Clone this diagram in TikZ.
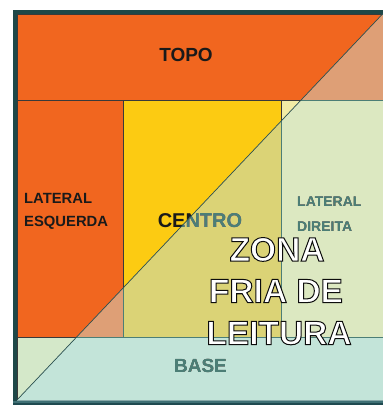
\documentclass[tikz,border=0pt]{standalone}
\usepackage{fontspec}
\setmainfont{Liberation Sans}
\definecolor{framec}{HTML}{1E4848}
\definecolor{orangeA}{HTML}{F1661F}
\definecolor{tanB}{HTML}{DE9F6E}
\definecolor{yellowA}{HTML}{FCCB12}
\definecolor{oliveB}{HTML}{DBD36F}
\definecolor{paleyA}{HTML}{F2ECA5}
\definecolor{palegB}{HTML}{DCE8C1}
\definecolor{basegA}{HTML}{D4E8C9}
\definecolor{basetB}{HTML}{C3E4D9}
\definecolor{tealtxt}{HTML}{4C7E76}
\definecolor{linec}{HTML}{3A3A3A}
\definecolor{diagc}{HTML}{2A4F4F}
\definecolor{txtc}{HTML}{1A1A1A}
\definecolor{botA}{HTML}{86A8A8}
\definecolor{botB}{HTML}{3F7075}
\definecolor{botC}{HTML}{1F4A50}
\newcommand{\outl}[1]{\special{pdf:literal direct 2 Tr 1.0 w 0.05 0.05 0.05 RG}#1\special{pdf:literal direct 0 Tr}}
\begin{document}
\begin{tikzpicture}[x=1pt,y=-1pt,
  regionline/.style={draw=linec, line width=0.6pt},
  diagline/.style={draw=diagc, line width=0.7pt},
  lbl/.style={inner sep=0pt, text=txtc, font=\bfseries},
  zona/.style={inner sep=0pt, text=white, anchor=base, font=\fontsize{33.5}{33.5}\selectfont\bfseries}]
\useasboundingbox (0,0) rectangle (383,405);
% frame (left and top)
\fill[framec] (13,10) rectangle (17,405);
\fill[framec] (13,10) rectangle (383,14);
% upper-left colours
\fill[orangeA] (17,14) rectangle (383,100);
\fill[orangeA] (17,100) rectangle (123,337);
\fill[yellowA] (123,100) rectangle (281,337);
\fill[paleyA] (281,100) rectangle (383,337);
\fill[basegA] (17,337) rectangle (383,400);
% lower-right colours
\coordinate (dA) at (17,400);
\coordinate (dB) at (383,13.5);
\begin{scope}
  \clip (dA) -- (dB) -- (383,13.5) -- (383,400) -- cycle;
  \fill[tanB] (17,14) rectangle (383,100);
  \fill[tanB] (17,100) rectangle (123,337);
  \fill[oliveB] (123,100) rectangle (281,337);
  \fill[palegB] (281,100) rectangle (383,337);
  \fill[basetB] (17,337) rectangle (383,400);
\end{scope}
% bottom edge
\fill[botA] (17,399.5) rectangle (383,401.2);
\fill[botB] (13,401.2) rectangle (383,403);
\fill[botC] (13,403) rectangle (383,405);
% region boundaries
\draw[regionline] (17,100) -- (383,100);
\draw[regionline] (123,100) -- (123,337);
\draw[regionline] (281,100) -- (281,337);
\draw[regionline] (17,337) -- (383,337);
\draw[regionline] (17,14) -- (383,14);
\draw[regionline] (17,14) -- (17,400);
% labels
\node[lbl, anchor=base, font=\fontsize{19}{19}\selectfont\bfseries] (topo) at (186,61.5) {TOPO};
\node[lbl, anchor=base west, font=\fontsize{14.8}{14.8}\selectfont\bfseries] (le1) at (24,203) {LATERAL};
\node[lbl, anchor=base west, font=\fontsize{14.8}{14.8}\selectfont\bfseries] (le2) at (24,226.5) {ESQUERDA};
\node[lbl, anchor=base, font=\fontsize{20}{20}\selectfont\bfseries] (centro) at (200,227) {CENTRO};
\node[lbl, anchor=base west, font=\fontsize{14}{14}\selectfont\bfseries] (ld1) at (297,206.5) {LATERAL};
\node[lbl, anchor=base west, font=\fontsize{14}{14}\selectfont\bfseries] (ld2) at (297,231.5) {DIREITA};
\node[lbl, anchor=base, font=\fontsize{19}{19}\selectfont\bfseries] (base) at (200.5,372) {BASE};
% tint of the lower-right half
\fill[tealtxt, blend mode=lighten] (dA) -- (dB) -- (383,13.5) -- (383,399.5) -- (17,399.5) -- cycle;
% diagonal
\draw[diagline] (dA) -- (dB);
% cold reading zone
\node[zona] (z1) at (277,261) {\outl{ZONA}};
\node[zona] (z2) at (276,302.5) {\outl{FRIA DE}};
\node[zona] (z3) at (279,344.5) {\outl{LEITURA}};
\end{tikzpicture}
\end{document}
